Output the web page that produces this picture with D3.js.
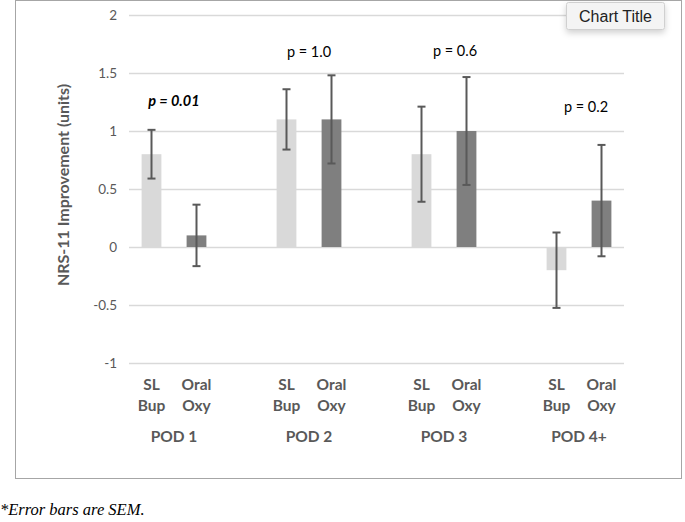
<!DOCTYPE html>
<html>
<head>
<meta charset="utf-8">
<script src="https://cdn.jsdelivr.net/npm/d3@7"></script>
<style>
  html, body { margin: 0; padding: 0; background: #fff; }
  svg { display: block; }
</style>
</head>
<body>
<svg id="chart" width="685" height="522"></svg>
<script>
// ---- data ----
const groups = ["POD 1", "POD 2", "POD 3", "POD 4+"];
const drugLines = [["SL", "Bup"], ["Oral", "Oxy"]];
const slBup = [0.8, 1.1, 0.8, -0.2];
const slBupErr = [0.21, 0.26, 0.41, 0.325];
const oralOxy = [0.1, 1.1, 1.0, 0.4];
const oralOxyErr = [0.265, 0.38, 0.465, 0.48];
const pLabels = ["p = 0.01", "p = 1.0", "p = 0.6", "p = 0.2"];
const pLabelValue = [1.255, 1.685, 1.69, 1.21];
const yTicks = [-1, -0.5, 0, 0.5, 1, 1.5, 2];
const yTitle = "NRS-11 Improvement (units)";
const chartTitle = "Chart Title";
const footnote = "*Error bars are SEM.";

// ---- layout ----
const svg = d3.select("#chart");
const plot = { left: 129, right: 624, top: 15, bottom: 363 };
const font = "Lato, 'Open Sans', sans-serif";
const textGray = "#595959";

// frame
svg.append("rect").attr("x", 15.5).attr("y", 0.5).attr("width", 666).attr("height", 478)
  .attr("fill", "#fff").attr("stroke", "#a6a6a6").attr("stroke-width", 1);

// 11 slots: SL, Oral, gap, SL, Oral, gap, ...
const slots = [];
groups.forEach((g, gi) => {
  slots.push({ group: gi, drug: 0, key: gi + "-0" });
  slots.push({ group: gi, drug: 1, key: gi + "-1" });
  if (gi < groups.length - 1) slots.push({ group: gi, drug: -1, key: gi + "-gap" });
});

const x = d3.scaleBand().domain(slots.map(s => s.key)).range([plot.left, plot.right]).padding(0);
const y = d3.scaleLinear().domain([-1, 2]).range([plot.bottom, plot.top]);
const barW = x.bandwidth() * 0.44;
const cx = key => x(key) + x.bandwidth() / 2;

// gridlines
svg.append("g").selectAll("line").data(yTicks).join("line")
  .attr("x1", plot.left).attr("x2", plot.right)
  .attr("y1", d => Math.round(y(d)) + 0.5).attr("y2", d => Math.round(y(d)) + 0.5)
  .attr("stroke", "#d9d9d9").attr("stroke-width", 1.3);

// y axis labels
const yAxis = d3.axisLeft(y).tickValues(yTicks).tickSize(0).tickPadding(0)
  .tickFormat(d => String(d));
const yg = svg.append("g").attr("transform", `translate(117,0)`).call(yAxis);
yg.select(".domain").remove();
yg.selectAll("text").attr("font-family", font).attr("font-size", 13.5).attr("fill", textGray);

// y title
svg.append("text").attr("transform", `translate(69,${y(0.5) - 4}) rotate(-90)`)
  .attr("text-anchor", "middle").attr("font-family", font).attr("font-weight", "bold")
  .attr("font-size", 16).attr("fill", textGray).text(yTitle);

// bars
const bars = [];
groups.forEach((g, gi) => {
  bars.push({ key: gi + "-0", v: slBup[gi], e: slBupErr[gi], color: "#d9d9d9" });
  bars.push({ key: gi + "-1", v: oralOxy[gi], e: oralOxyErr[gi], color: "#7f7f7f" });
});
svg.append("g").selectAll("rect").data(bars).join("rect")
  .attr("x", d => cx(d.key) - barW / 2).attr("width", barW)
  .attr("y", d => y(Math.max(0, d.v))).attr("height", d => Math.abs(y(d.v) - y(0)))
  .attr("fill", d => d.color);

// error bars
const eg = svg.append("g").attr("stroke", "#595959").attr("stroke-width", 2);
bars.forEach(d => {
  const c = cx(d.key), capW = 4;
  eg.append("line").attr("x1", c).attr("x2", c).attr("y1", y(d.v + d.e)).attr("y2", y(d.v - d.e));
  eg.append("line").attr("x1", c - capW).attr("x2", c + capW).attr("y1", y(d.v + d.e)).attr("y2", y(d.v + d.e));
  eg.append("line").attr("x1", c - capW).attr("x2", c + capW).attr("y1", y(d.v - d.e)).attr("y2", y(d.v - d.e));
});

// category labels
const catG = svg.append("g").attr("font-family", font).attr("font-weight", "bold")
  .attr("font-size", 15.5).attr("fill", textGray).attr("text-anchor", "middle");
slots.filter(s => s.drug >= 0).forEach(s => {
  const t = catG.append("text").attr("x", cx(s.key)).attr("y", 390);
  drugLines[s.drug].forEach((ln, i) => {
    t.append("tspan").attr("x", cx(s.key)).attr("dy", i === 0 ? 0 : 21).text(ln);
  });
});
groups.forEach((g, gi) => {
  const c = (cx(gi + "-0") + cx(gi + "-1")) / 2;
  catG.append("text").attr("x", c).attr("y", 442).text(g);
});

// p-value annotations
const pOffset = [0, 0, 11, 7];
groups.forEach((g, gi) => {
  const c = (cx(gi + "-0") + cx(gi + "-1")) / 2 + pOffset[gi];
  const t = svg.append("text").attr("x", c).attr("y", y(pLabelValue[gi]))
    .attr("dy", "0.35em").attr("text-anchor", "middle")
    .attr("font-family", font).attr("font-size", 14.5).attr("fill", "#000").text(pLabels[gi]);
  if (gi === 0) t.attr("font-weight", "bold").attr("font-style", "italic");
});

// "Chart Title" button
const defs = svg.append("defs");
const flt = defs.append("filter").attr("id", "sh").attr("x", "-30%").attr("y", "-50%").attr("width", "160%").attr("height", "220%");
flt.append("feDropShadow").attr("dx", 0).attr("dy", 3).attr("stdDeviation", 3).attr("flood-color", "#000").attr("flood-opacity", 0.18);
svg.append("rect").attr("x", 566.5).attr("y", 2.5).attr("width", 98).attr("height", 27).attr("rx", 2)
  .attr("fill", "#f4f4f4").attr("stroke", "#d0d0d0").attr("filter", "url(#sh)");
svg.append("text").attr("x", 615.5).attr("y", 16).attr("dy", "0.35em").attr("text-anchor", "middle")
  .attr("font-family", "'Liberation Sans', Arial, sans-serif").attr("font-size", 16).attr("fill", "#222").text(chartTitle);

// footnote
svg.append("text").attr("x", 0).attr("y", 515).attr("font-family", "'Liberation Serif', 'Times New Roman', serif")
  .attr("font-style", "italic").attr("font-size", 16.5).attr("fill", "#000").text(footnote);
</script>
</body>
</html>
